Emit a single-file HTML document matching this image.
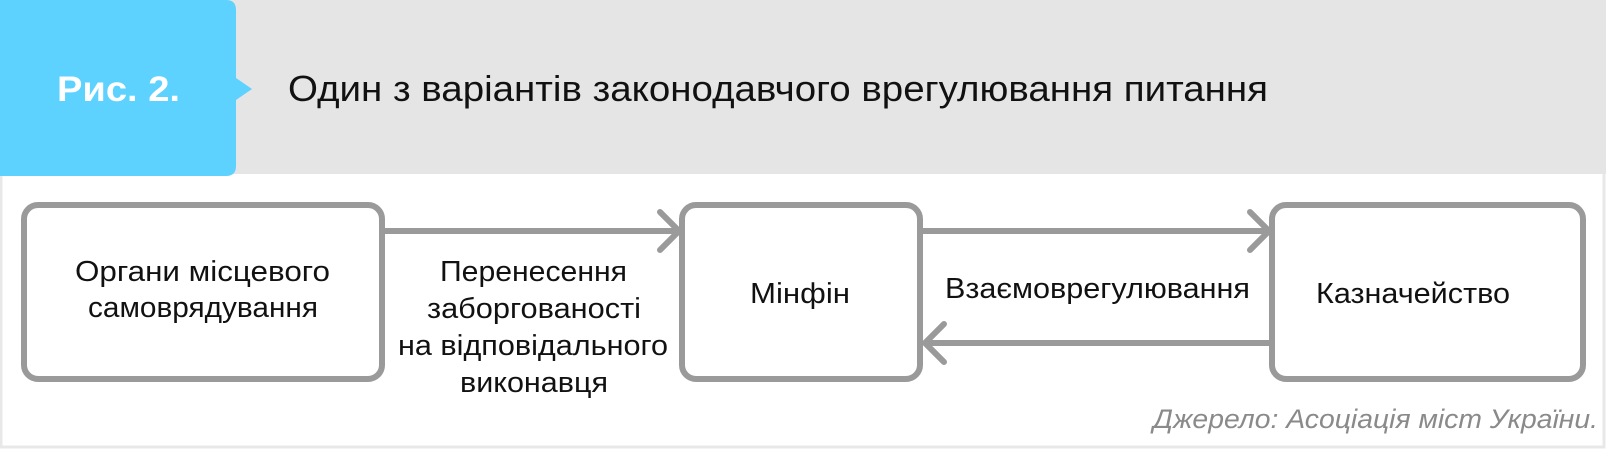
<!DOCTYPE html>
<html><head><meta charset="utf-8"><style>
body{margin:0;width:1606px;height:449px;overflow:hidden;background:#fff;font-family:"Liberation Sans","DejaVu Sans",sans-serif;}
</style></head><body>
<svg width="1606" height="449" viewBox="0 0 1606 449" xmlns="http://www.w3.org/2000/svg" style="display:block">
<rect x="0" y="0" width="1606" height="449" fill="#fff"/>
<rect x="1" y="1" width="1603" height="446" fill="none" stroke="#e8e8e8" stroke-width="3"/>
<rect x="0" y="0" width="1606" height="174" fill="#e5e5e5"/>
<path d="M0 0 H226 Q236 0 236 10 V78 L252 89 L236 100 V166 Q236 176 226 176 H0 Z" fill="#5dd2fe"/>
<text x="57" y="101" textLength="123" lengthAdjust="spacingAndGlyphs" font-size="35" font-weight="bold" fill="#fff">Рис. 2.</text>
<text x="288" y="101" textLength="980" lengthAdjust="spacingAndGlyphs" font-size="36" fill="#111">Один з варіантів законодавчого врегулювання питання</text>
<g fill="none" stroke="#9a9a9a" stroke-width="6" stroke-linecap="round" stroke-linejoin="round">
<rect x="24" y="205" width="358" height="174" rx="14"/>
<rect x="682" y="205" width="238" height="174" rx="14"/>
<rect x="1272" y="205" width="311" height="174" rx="14"/>
<path d="M385 231 H678 M660 212 L679 231 L660 250"/>
<path d="M923 231 H1268 M1250 212 L1269 231 L1250 250"/>
<path d="M1269 343 H926 M944 324 L925 343 L944 362"/>
</g>
<g font-size="29" fill="#111" lengthAdjust="spacingAndGlyphs">
<text x="75" y="281" textLength="255" lengthAdjust="spacingAndGlyphs">Органи місцевого</text>
<text x="88" y="317" textLength="230" lengthAdjust="spacingAndGlyphs">самоврядування</text>
<text x="440" y="281" textLength="187" lengthAdjust="spacingAndGlyphs">Перенесення</text>
<text x="427" y="318" textLength="214" lengthAdjust="spacingAndGlyphs">заборгованості</text>
<text x="398" y="355" textLength="270" lengthAdjust="spacingAndGlyphs">на відповідального</text>
<text x="460" y="392" textLength="148" lengthAdjust="spacingAndGlyphs">виконавця</text>
<text x="750" y="303" textLength="100" lengthAdjust="spacingAndGlyphs">Мінфін</text>
<text x="945" y="298" textLength="305" lengthAdjust="spacingAndGlyphs">Взаємоврегулювання</text>
<text x="1316" y="303" textLength="194" lengthAdjust="spacingAndGlyphs">Казначейство</text>
</g>
<text x="1153" y="428" textLength="445" lengthAdjust="spacingAndGlyphs" font-size="27" font-style="italic" fill="#8a8a8a">Джерело: Асоціація міст України.</text>
</svg>
</body></html>
